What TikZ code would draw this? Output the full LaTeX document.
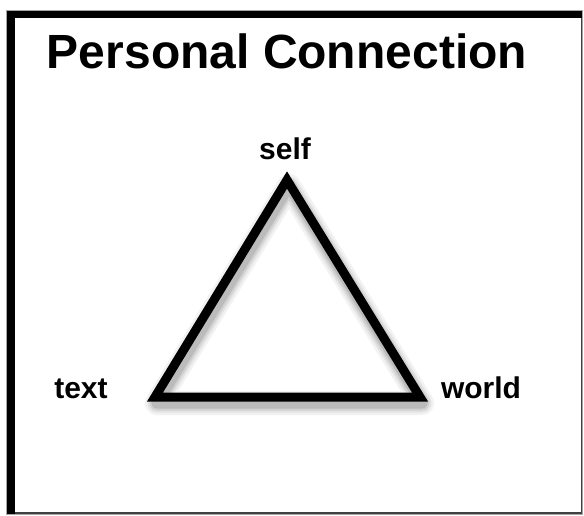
\documentclass[tikz,border=0pt]{standalone}
\usepackage{fontspec}
\setmainfont{Liberation Sans}
\begin{document}
\begin{tikzpicture}[x=1pt,y=-1pt,
  lbl/.style={font=\fontsize{30}{32}\selectfont\bfseries, anchor=base, inner sep=0pt},
  ttl/.style={font=\fontsize{48}{52}\selectfont\bfseries, anchor=base, inner sep=0pt},
  tri/.style={line width=9pt, line join=miter, black}]
\useasboundingbox (0,0) rectangle (584,515);
% frame
\fill[white] (6,10) rectangle (582.5,514);
\draw[gray!70, line width=0.8pt] (6,10) rectangle (582.5,514);
\draw[black!75, line width=1.6pt] (581.5,18) -- (581.5,513.2) -- (14,513.2);
\fill[black] (7,10.5) rectangle (14.5,513.5);
\fill[black] (7,10.5) rectangle (582,18);
% title
\node[ttl] (title) at (287,68) {Personal Connection};
% triangle vertices
\coordinate (A) at (287,180);
\coordinate (B) at (155,397);
\coordinate (C) at (420,397);
% shadow
\foreach \w/\o in {24/0.05,19/0.06,15/0.08,11/0.1} {
  \draw[black, opacity=\o, line width=\w pt, line join=round, transform canvas={shift={(2pt,-6pt)}}] (A) -- (B) -- (C) -- cycle;
}
\draw[tri] (A) -- (B) -- (C) -- cycle;
% labels
\node[lbl] (self) at (285,159) {self};
\node[lbl] (text) at (81,398) {text};
\node[lbl] (world) at (481,398) {world};
\end{tikzpicture}
\end{document}
